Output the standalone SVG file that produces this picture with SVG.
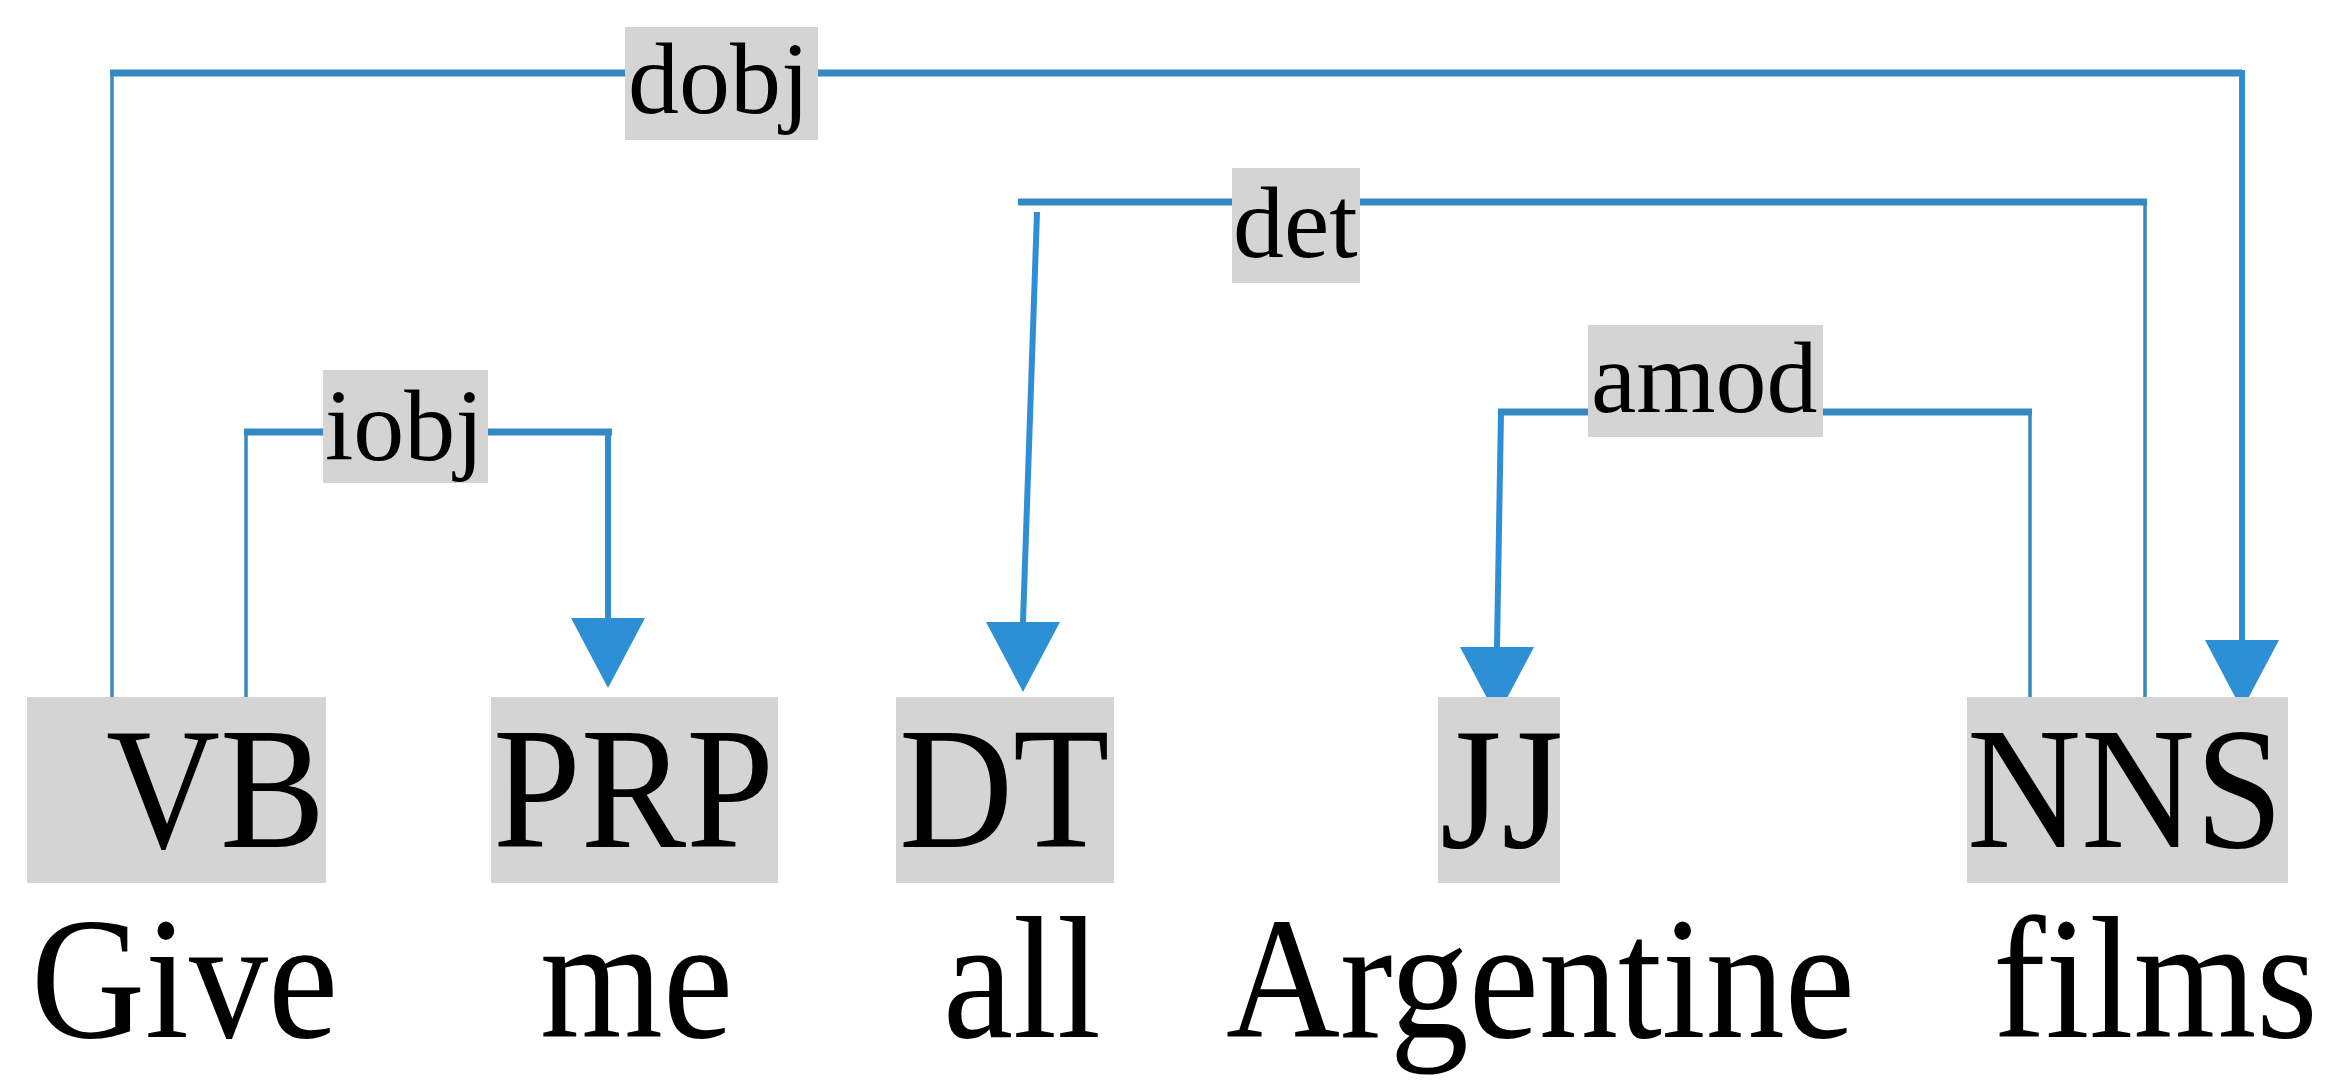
<svg xmlns="http://www.w3.org/2000/svg" width="2335" height="1087" viewBox="0 0 2335 1087">
<style>
.pos{font-family:"Liberation Serif","Times New Roman",serif;font-size:158px;fill:#000}
.lbl{font-family:"Liberation Serif","Times New Roman",serif;font-size:102px;fill:#000}
.bg{fill:#d4d4d4}
.src{fill:none;stroke:#3a88bd;stroke-width:3.5}
.hz{fill:none;stroke:#3589c2;stroke-width:7}
.tgt{fill:none;stroke:#2f8fd2;stroke-width:6}
</style>
<defs>
<marker id="arr" markerUnits="userSpaceOnUse" markerWidth="72" markerHeight="76" refX="0" refY="38" orient="90" viewBox="0 0 72 76">
<path d="M0,1 L70,38 L0,75 Z" fill="#2d90d6"/>
</marker>
</defs>
<rect width="2335" height="1087" fill="#fff"/>
<g id="connectors">
<g id="e-dobj">
<path class="src" d="M112,697 V73"/>
<path class="hz" d="M110,73 H2242"/>
<path class="tgt" d="M2242,70 V640" marker-end="url(#arr)"/>
</g>
<g id="e-iobj">
<path class="src" d="M246,697 V432"/>
<path class="hz" d="M244,432 H612"/>
<path class="tgt" d="M608,430 V618" marker-end="url(#arr)"/>
</g>
<g id="e-det">
<path class="src" d="M2145,697 V202"/>
<path class="hz" d="M2147,202 H1018"/>
<path class="tgt" d="M1037,212 L1023,622" marker-end="url(#arr)"/>
</g>
<g id="e-amod">
<path class="src" d="M2030,697 V412"/>
<path class="hz" d="M2032,412 H1498"/>
<path class="tgt" d="M1501,412 L1497,647" marker-end="url(#arr)"/>
</g>
</g>
<g id="labels">
<g id="l-dobj"><rect class="bg" x="625" y="27" width="193" height="113"/><text class="lbl" x="628" y="113">dobj</text></g>
<g id="l-iobj"><rect class="bg" x="323" y="370" width="165" height="113"/><text class="lbl" x="325" y="460">iobj</text></g>
<g id="l-det"><rect class="bg" x="1232" y="168" width="128" height="115"/><text class="lbl" x="1233" y="257">det</text></g>
<g id="l-amod"><rect class="bg" x="1588" y="325" width="235" height="112"/><text class="lbl" x="1591" y="412">amod</text></g>
</g>
<g id="n-give">
<rect class="bg" x="27" y="697" width="299" height="186"/>
<text class="pos" transform="translate(106,847) scale(1,1.1)">VB</text>
<text class="pos" transform="translate(31,1037) scale(1,1.1)">Give</text>
</g>
<g id="n-me">
<rect class="bg" x="491" y="697" width="287" height="186"/>
<text class="pos" transform="translate(493,847) scale(1,1.1)">PRP</text>
<text class="pos" transform="translate(540,1037) scale(1,1.1)">me</text>
</g>
<g id="n-all">
<rect class="bg" x="896" y="697" width="218" height="186"/>
<text class="pos" transform="translate(899,847) scale(1,1.1)">DT</text>
<text class="pos" transform="translate(943,1037) scale(1,1.1)">all</text>
</g>
<g id="n-argentine">
<rect class="bg" x="1438" y="697" width="122" height="186"/>
<text class="pos" transform="translate(1440,847) scale(1,1.1)">JJ</text>
<text class="pos" transform="translate(1226,1037) scale(1,1.1)">Argentine</text>
</g>
<g id="n-films">
<rect class="bg" x="1967" y="697" width="321" height="186"/>
<text class="pos" transform="translate(1967,847) scale(1,1.1)">NNS</text>
<text class="pos" transform="translate(1993,1037) scale(1,1.1)">films</text>
</g>
</svg>
